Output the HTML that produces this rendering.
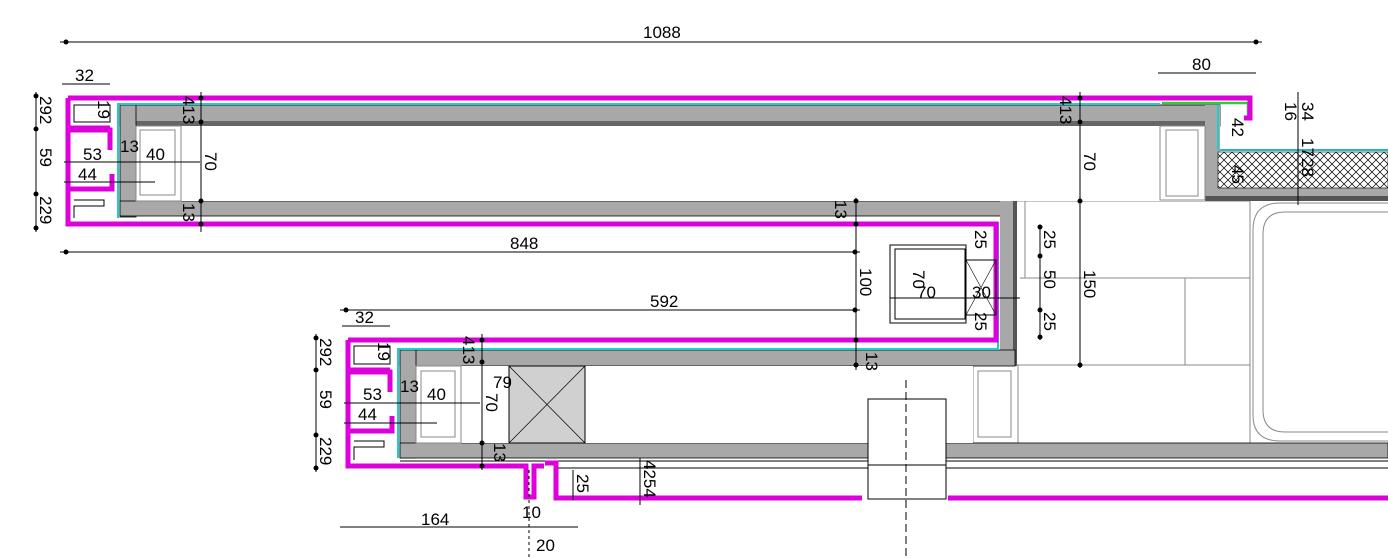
<!DOCTYPE html>
<html><head><meta charset="utf-8"><style>
html,body{margin:0;padding:0;background:#fff;}
svg{display:block;}
text{font-family:"Liberation Sans",sans-serif;font-size:17px;fill:#000;}
</style></head><body>
<svg width="1388" height="558" viewBox="0 0 1388 558" xmlns="http://www.w3.org/2000/svg">
<defs>
<pattern id="hx" width="8" height="8" patternUnits="userSpaceOnUse">
<rect width="8" height="8" fill="#fff"/>
<path d="M0 0L8 8M8 0L0 8" stroke="#000" stroke-width="0.7"/>
</pattern>
</defs>
<g stroke="#888" fill="none" stroke-width="1">
<line x1="1015" y1="201" x2="1250" y2="201"/>
<line x1="1025" y1="201" x2="1025" y2="278"/>
<line x1="1020" y1="278" x2="1250" y2="278"/>
<line x1="1185" y1="278" x2="1185" y2="365"/>
<line x1="1015" y1="365" x2="1250" y2="365"/>
<line x1="1250" y1="201" x2="1250" y2="443"/>
<line x1="1018" y1="365" x2="1018" y2="443"/>
<rect x="973" y="365" width="45" height="78"/>
<rect x="978" y="371" width="33" height="66"/>
<path d="M1388 203 H1280 Q1253 203 1253 230 V415 Q1253 441 1280 441 H1388"/>
<path d="M1388 212 H1285 Q1263 212 1263 234 V410 Q1263 432 1285 432 H1388"/>
</g>
<rect x="120" y="105" width="1100" height="21" fill="#a8a8a8" stroke="#000" stroke-width="0.8"/>
<rect x="136" y="121" width="1070" height="5" fill="#666"/>
<rect x="120" y="105" width="16" height="112" fill="#a8a8a8" stroke="#000" stroke-width="0.8"/>
<rect x="120" y="201" width="895" height="15" fill="#a8a8a8" stroke="#000" stroke-width="0.8"/>
<rect x="136" y="126" width="1070" height="75" fill="#fff"/>
<rect x="1205" y="105" width="15" height="95" fill="#a8a8a8"/>
<rect x="1220" y="188" width="168" height="9" fill="#a8a8a8"/>
<rect x="1205" y="196" width="183" height="5" fill="#555"/>
<rect x="1218" y="152" width="170" height="36" fill="url(#hx)" stroke="#000" stroke-width="0.6"/>
<line x1="1220" y1="150" x2="1388" y2="150" stroke="#2bb" stroke-width="2"/>
<rect x="1160" y="126" width="45" height="74" fill="#fff" stroke="#888"/>
<rect x="1166" y="130" width="32" height="66" fill="none" stroke="#888"/>
<rect x="136" y="126" width="45" height="75" fill="none" stroke="#888"/>
<rect x="140" y="130" width="35" height="65" fill="none" stroke="#888"/>
<rect x="1000" y="201" width="15" height="165" fill="#a8a8a8"/>
<rect x="1013" y="201" width="4" height="165" fill="#555"/>
<rect x="400" y="350" width="615" height="16" fill="#a8a8a8" stroke="#000" stroke-width="0.8"/>
<rect x="400" y="350" width="16" height="108" fill="#a8a8a8" stroke="#000" stroke-width="0.8"/>
<rect x="400" y="443" width="988" height="15" fill="#a8a8a8" stroke="#000" stroke-width="0.8"/>
<rect x="416" y="366" width="557" height="77" fill="#fff"/>
<rect x="416" y="366" width="45" height="77" fill="none" stroke="#888"/>
<rect x="421" y="371" width="34" height="66" fill="none" stroke="#888"/>
<rect x="509" y="366" width="76" height="77" fill="#d0d0d0" stroke="#000"/>
<path d="M509 366L585 443M585 366L509 443" stroke="#000" stroke-width="0.7"/>
<line x1="400" y1="461" x2="1388" y2="461" stroke="#000"/>
<line x1="556" y1="468" x2="1388" y2="468" stroke="#000"/>
<g stroke="#2cc" stroke-width="2" fill="none">
<path d="M118 218 V104 H1160"/>
<path d="M398 458 V349 H998 V222"/>
<path d="M1218 105 V150"/>
</g>
<path d="M1162 103 H1248 V118" stroke="#3c3" stroke-width="2.5" fill="none"/>
<g fill="none" stroke="#d0d" stroke-width="5">
<path d="M68 98 H1250 V118 H1244"/>
<path d="M68 98 V128 H110 M68 130 H110 V150"/>
<path d="M68 130 V189 H112 V174"/>
<path d="M68 191 V224 H996 V340 H348"/>
<path d="M348 340 V370 H390 M348 372 H390 V392"/>
<path d="M348 372 V431 H392 V416"/>
<path d="M348 433 V466 H526 V497 H534 V466 H544"/>
<path d="M545 463 H556 V498 H862"/>
<path d="M948 498 H1388"/>
</g>
<g fill="none" stroke="#000" stroke-width="1">
<path d="M74 105 H110 V122 H74 Z"/>
<path d="M74 200 H104 V206 H74 V218"/>
<path d="M354 346 H390 V364 H354 Z"/>
<path d="M354 441 H384 V447 H354 V460"/>
<rect x="868" y="399" width="78" height="100" fill="#fff"/>
<line x1="868" y1="465" x2="946" y2="465"/>
<rect x="890" y="245" width="76" height="78"/>
<rect x="895" y="249" width="70" height="70"/>
<rect x="966" y="260" width="30" height="55"/>
<path d="M966 260L996 315M996 260L966 315" stroke-width="0.6"/>
</g>
<line x1="906" y1="380" x2="906" y2="558" stroke="#000" stroke-dasharray="8,4"/>
<line x1="529" y1="470" x2="529" y2="558" stroke="#000" stroke-dasharray="3,3"/>
<g stroke="#000" stroke-width="1">
<line x1="60" y1="42" x2="1262" y2="42"/>
<line x1="60" y1="252" x2="860" y2="252"/>
<line x1="340" y1="310" x2="860" y2="310"/>
<line x1="62" y1="84" x2="110" y2="84"/>
<line x1="342" y1="326" x2="390" y2="326"/>
<line x1="1158" y1="73" x2="1256" y2="73"/>
<line x1="36" y1="92" x2="36" y2="232"/>
<line x1="316" y1="334" x2="316" y2="472"/>
<line x1="340" y1="527" x2="530" y2="527"/>
<line x1="528" y1="527" x2="578" y2="527"/>
<line x1="201" y1="92" x2="201" y2="232"/>
<line x1="1080" y1="92" x2="1080" y2="368"/>
<line x1="856" y1="198" x2="856" y2="370"/>
<line x1="482" y1="334" x2="482" y2="470"/>
<line x1="1040" y1="225" x2="1040" y2="340"/>
<line x1="1298" y1="92" x2="1298" y2="205"/>
<line x1="640" y1="458" x2="640" y2="505"/>
<line x1="573" y1="470" x2="573" y2="500"/>
<line x1="64" y1="162" x2="200" y2="162"/>
<line x1="64" y1="182" x2="155" y2="182"/>
<line x1="344" y1="403" x2="480" y2="403"/>
<line x1="344" y1="423" x2="437" y2="423"/>
<line x1="890" y1="298" x2="1020" y2="298"/>
</g>
<g fill="#000">
<circle cx="66" cy="42" r="2.5"/><circle cx="1256" cy="42" r="2.5"/>
<circle cx="66" cy="252" r="2.5"/><circle cx="855" cy="252" r="2.5"/>
<circle cx="346" cy="310" r="2.5"/><circle cx="855" cy="310" r="2.5"/>
<circle cx="36" cy="96" r="2.5"/><circle cx="36" cy="129" r="2.5"/><circle cx="36" cy="194" r="2.5"/><circle cx="36" cy="228" r="2.5"/>
<circle cx="316" cy="338" r="2.5"/><circle cx="316" cy="370" r="2.5"/><circle cx="316" cy="435" r="2.5"/><circle cx="316" cy="468" r="2.5"/>
<circle cx="201" cy="98" r="2.5"/><circle cx="201" cy="122" r="2.5"/><circle cx="201" cy="201" r="2.5"/><circle cx="201" cy="224" r="2.5"/>
<circle cx="1080" cy="98" r="2.5"/><circle cx="1080" cy="122" r="2.5"/><circle cx="1080" cy="201" r="2.5"/><circle cx="1080" cy="365" r="2.5"/>
<circle cx="482" cy="340" r="2.5"/><circle cx="482" cy="362" r="2.5"/><circle cx="482" cy="443" r="2.5"/><circle cx="482" cy="466" r="2.5"/>
<circle cx="856" cy="201" r="2.5"/><circle cx="856" cy="224" r="2.5"/><circle cx="856" cy="340" r="2.5"/><circle cx="856" cy="365" r="2.5"/>
<circle cx="1040" cy="227" r="2.5"/><circle cx="1040" cy="256" r="2.5"/><circle cx="1040" cy="310" r="2.5"/><circle cx="1040" cy="337" r="2.5"/>
</g>
<text x="643" y="38">1088</text>
<text x="510" y="249">848</text>
<text x="650" y="307">592</text>
<text x="75" y="81">32</text>
<text x="355" y="323">32</text>
<text x="1192" y="70">80</text>
<text x="421" y="525">164</text>
<text x="536" y="551">20</text>
<text x="522" y="518">10</text>
<text x="83" y="160" font-size="19">53</text>
<text x="146" y="160" font-size="19">40</text>
<text x="78" y="180" font-size="19">44</text>
<text x="363" y="400" font-size="19">53</text>
<text x="427" y="400" font-size="19">40</text>
<text x="358" y="420" font-size="19">44</text>
<text x="493" y="388">79</text>
<text x="917" y="298" font-size="19">70</text>
<text x="972" y="298" font-size="17">30</text>
<text x="120" y="152" font-size="13">13</text>
<text x="400" y="392" font-size="13">13</text>
<g font-size="17">
<text transform="translate(40,96) rotate(90)">292</text>
<text transform="translate(40,148) rotate(90)">59</text>
<text transform="translate(40,196) rotate(90)">229</text>
<text transform="translate(320,338) rotate(90)">292</text>
<text transform="translate(320,390) rotate(90)">59</text>
<text transform="translate(320,437) rotate(90)">229</text>
<text transform="translate(205,152) rotate(90)">70</text>
<text transform="translate(1084,152) rotate(90)">70</text>
<text transform="translate(486,393) rotate(90)">70</text>
<text transform="translate(860,268) rotate(90)">100</text>
<text transform="translate(1084,270) rotate(90)">150</text>
<text transform="translate(1044,230) rotate(90)">25</text>
<text transform="translate(1044,270) rotate(90)">50</text>
<text transform="translate(1044,312) rotate(90)">25</text>
<text transform="translate(975,230) rotate(90)">25</text>
<text transform="translate(975,312) rotate(90)">25</text>
<text transform="translate(913,270) rotate(90)">70</text>
<text transform="translate(1285,102) rotate(90)">16</text>
<text transform="translate(1302,102) rotate(90)">34</text>
<text transform="translate(1302,138) rotate(90)" font-size="13">17</text>
<text transform="translate(1302,158) rotate(90)">28</text>
<text transform="translate(1232,118) rotate(90)">42</text>
<text transform="translate(1232,165) rotate(90)">45</text>
<text transform="translate(577,474) rotate(90)">25</text>
<text transform="translate(644,460) rotate(90)">4254</text>
<text transform="translate(98,100) rotate(90)" font-size="13">19</text>
<text transform="translate(378,342) rotate(90)" font-size="13">19</text>
<text transform="translate(183,96) rotate(90)" font-size="13">413</text>
<text transform="translate(463,336) rotate(90)" font-size="13">413</text>
<text transform="translate(183,203) rotate(90)" font-size="13">13</text>
<text transform="translate(1060,96) rotate(90)" font-size="13">413</text>
<text transform="translate(835,200) rotate(90)" font-size="13">13</text>
<text transform="translate(866,352) rotate(90)" font-size="13">13</text>
<text transform="translate(494,443) rotate(90)" font-size="13">13</text>
</g>
</svg>
</body></html>
